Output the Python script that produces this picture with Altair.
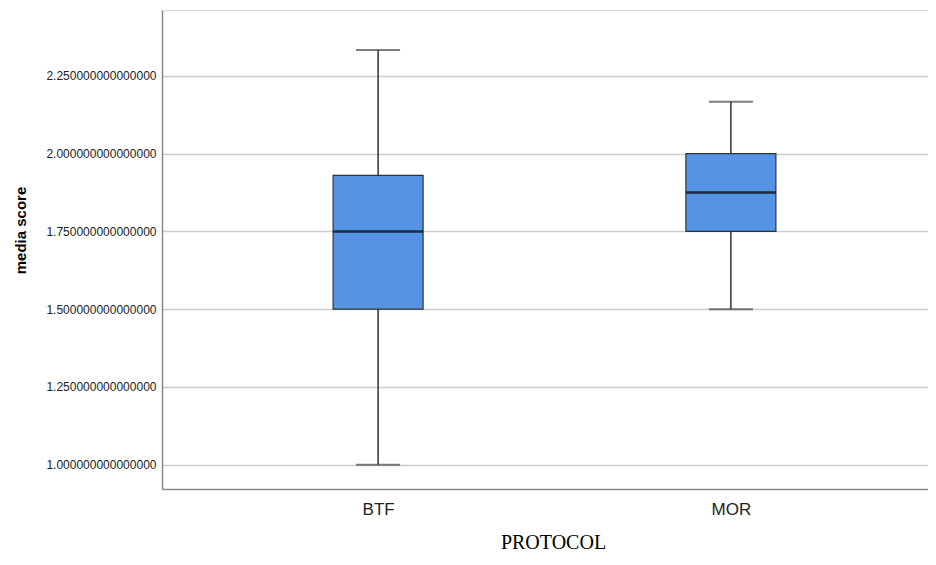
import altair as alt
import pandas as pd

protocols = ["BTF", "MOR"]
mins = [1.0, 1.5]
q1s = [1.5, 1.75]
medians = [1.75, 1.875]
q3s = [1.93, 2.0]
maxs = [2.333, 2.167]
y_ticks = [1.0, 1.25, 1.5, 1.75, 2.0, 2.25]

df = pd.DataFrame({
    "protocol": protocols,
    "lo": mins,
    "q1": q1s,
    "median": medians,
    "q3": q3s,
    "hi": maxs,
})

x_enc = alt.X(
    "protocol:N",
    sort=protocols,
    scale=alt.Scale(type="point", padding=0.5856, align=0.523),
    axis=alt.Axis(
        title="PROTOCOL",
        labelAngle=0,
        labelFont="Liberation Sans",
        labelFontSize=17,
        labelColor="#222222",
        labelBaseline="alphabetic",
        labelPadding=25,
        ticks=False,
        tickSize=0,
        grid=False,
        domainColor="#888888",
        domainWidth=1.5,
        titleFont="Liberation Serif",
        titleFontSize=20,
        titleFontWeight="normal",
        titleColor="#000000",
        titleX=391,
        titleY=63,
        titleAlign="center",
        titleBaseline="bottom",
    ),
)

y_scale = alt.Scale(domain=[0.922, 2.462], nice=False, zero=False)
y_axis = alt.Axis(
    title="media score",
    values=y_ticks,
    format=".15f",
    labelFont="Liberation Sans",
    labelFontSize=12,
    labelColor="#222222",
    labelPadding=6,
    ticks=False,
    tickSize=0,
    grid=True,
    gridColor="#cccccc",
    gridWidth=1.5,
    domainColor="#888888",
    domainWidth=1.5,
    titleFont="Liberation Sans",
    titleFontSize=15,
    titleFontWeight="bold",
    titleColor="#000000",
    titleAngle=270,
    titleX=-137,
    titleY=220,
    titleAlign="center",
    titleBaseline="alphabetic",
)

base = alt.Chart(df)

whisker = base.mark_rule(color="#111111", strokeWidth=1.3).encode(
    x=x_enc,
    y=alt.Y("lo:Q", scale=y_scale, axis=y_axis),
    y2="hi:Q",
)

box = base.mark_bar(size=90, fill="#5594E4", stroke="#333333", strokeWidth=1.2).encode(
    x=x_enc,
    y=alt.Y("q1:Q", scale=y_scale, axis=y_axis),
    y2="q3:Q",
)

median = base.mark_tick(size=90, thickness=2.5, color="#000000").encode(
    x=x_enc,
    y=alt.Y("median:Q", scale=y_scale, axis=y_axis),
)

cap_lo = base.mark_tick(size=44, thickness=2, color="#444444").encode(
    x=x_enc,
    y=alt.Y("lo:Q", scale=y_scale, axis=y_axis),
)
cap_hi = base.mark_tick(size=44, thickness=2, color="#444444").encode(
    x=x_enc,
    y=alt.Y("hi:Q", scale=y_scale, axis=y_axis),
)

chart = alt.layer(whisker, box, median, cap_lo, cap_hi).properties(
    width=766,
    height=479,
    padding={"left": 154, "top": 2, "right": 0, "bottom": 63},
    autosize=alt.AutoSizeParams(type="none"),
).configure_view(stroke=None).configure(background="#ffffff")

chart.save("out.html", embed_options={"renderer": "svg", "actions": False})
